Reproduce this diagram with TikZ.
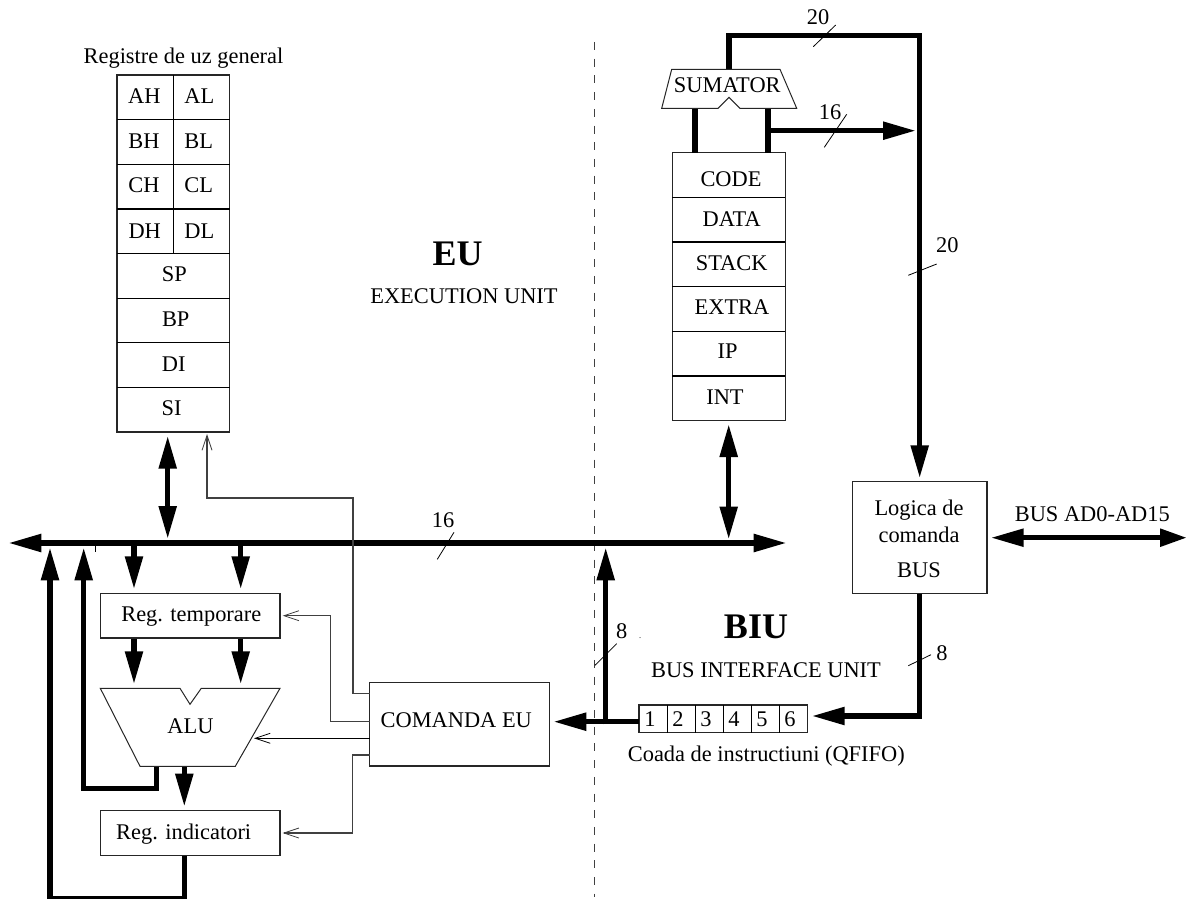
\documentclass[tikz,border=0pt]{standalone}
\usepackage{fontspec}
\setmainfont{Liberation Serif}
\usetikzlibrary{arrows.meta}
\tikzset{
  x=1pt,y=-1pt,
  every node/.style={inner sep=0pt,outer sep=0pt},
  txt/.style={anchor=base,font=\fontsize{22.4}{26}\selectfont},
  big/.style={anchor=base,font=\fontsize{36}{40}\selectfont},
  boxln/.style={draw=black!85,line width=1.1pt,fill=white},
  sepln/.style={draw=black,line width=1.1pt},
  thin wire/.style={draw=black!75,line width=1.1pt},
  tick/.style={draw=black,line width=0.8pt},
  bus/.style={draw=black,line width=5.4pt},
  hd/.tip={Triangle[length=33pt,width=17pt]},
  busarr/.style={bus,-{hd},shorten >=0pt},
  opn/.tip={Straight Barb[length=15pt,width=10pt,line width=0.8pt]},
  ctl/.style={thin wire,-{opn}},
}
\begin{document}
\begin{tikzpicture}
\useasboundingbox (0,0) rectangle (1187,899);
% dashed separator
\coordinate (dashT) at (594,42);
\coordinate (dashB) at (594,897);
\draw[draw=black!75,line width=1pt,dash pattern=on 8pt off 8.7pt] (dashT) -- (dashB);

% general registers
\node[txt] (regtitle) at (183.5,63.5) {Registre de uz general};
\node[boxln,anchor=north west,minimum width=112.5pt,minimum height=357pt] (regs) at (117,75) {};
\foreach \yy in {119.6,164.3,209,253.6,298.3,342.9,387.6}{
  \draw[sepln] (117,\yy) -- (229.5,\yy);
}
\draw[sepln] (173.3,75) -- (173.3,253.6);
\foreach \t/\xa/\ya in {AH/144.3/103.5,AL/199.3/103.5,BH/144/148.3,BL/198.7/148.3,CH/144/192.7,CL/198.7/192.7,DH/144.7/238.3,DL/199.3/238.3,SP/174.3/281.3,BP/175.7/326,DI/173.7/371,SI/171.7/415}{
  \node[txt] (r\t) at (\xa,\ya) {\t};
}

% segment registers and adder
\coordinate (sT) at (729,69.3);
\coordinate (sL) at (695,108.3);
\coordinate (sR) at (768,108.3);
\node[boxln,anchor=north west,minimum width=113pt,minimum height=268pt] (segs) at (672.3,152.7) {};
\foreach \yy in {197.3,242,286.7,331.3,376}{
  \draw[sepln] (672.3,\yy) -- (785.3,\yy);
}
\foreach \n/\t/\xa/\ya in {c/CODE/731/186.7,d/DATA/731.7/226,s/STACK/731.7/270,e/EXTRA/732/314.7,i/IP/727.7/358.7,n/INT/725/404}{
  \node[txt] (seg\n) at (\xa,\ya) {\t};
}
\draw[bus] (sL) -- (695,152.7);
\draw[bus] (sR) -- (768,152.7);
\coordinate (s16) at (916,130.7);
\draw[busarr] (768,130.7) -- (s16);
\coordinate (logicTop) at (919.7,478.3);
\draw[busarr,line join=miter] (sT) -- (729,35.7) -- (919.7,35.7) -- (logicTop);
\draw[boxln,fill=white,line width=1pt] (671.7,69.3) -- (780,69.3) -- (796.7,108.3) -- (740,108.3) -- (729,97.3) -- (718,108.3) -- (661.7,108.3) -- cycle;
\node[txt] (sumator) at (727.3,92.3) {SUMATOR};

% main bus
\coordinate (busL) at (8.3,543);
\coordinate (busR) at (786.7,543);
\draw[bus,{hd}-{hd}] (busL) -- (busR);
\draw[tick] (95.3,543) -- (95.3,552);
\draw[bus,{hd}-{hd}] (167.7,435.7) -- (167.7,539);
\draw[bus,{hd}-{hd}] (728.7,424) -- (728.7,539.5);

% lower-left blocks
\node[boxln,anchor=north west,minimum width=179.7pt,minimum height=44.7pt] (temp) at (100.3,593.3) {};
\node[txt] (temptxt) at (191.3,621.7) {Reg. temporare};
\node[boxln,anchor=north west,minimum width=179.7pt,minimum height=44.6pt] (ind) at (100.3,810.7) {};
\node[txt] (indtxt) at (183.7,839.3) {Reg. indicatori};
\draw[boxln,line width=1pt] (100.3,688.3) -- (180,688.3) -- (190,704.3) -- (201.3,688.3) -- (280,688.3) -- (235.3,766.3) -- (140,766.3) -- cycle;
\node[txt] (alu) at (190.5,733.3) {ALU};
\draw[busarr] (134,545) -- (134,589.3);
\draw[busarr] (240.7,545) -- (240.7,589.3);
\draw[busarr] (134,638.5) -- (134,684.3);
\draw[busarr] (240.7,638.5) -- (240.7,684.3);
\draw[busarr] (184.3,766.8) -- (184.3,806.7);
\draw[busarr,line join=miter] (156.3,766.8) -- (156.3,788.7) -- (83.7,788.7) -- (83.7,547.3);
\draw[busarr,line join=miter] (184.3,855.8) -- (184.3,898.5) -- (50,898.5) -- (50,547.3);

% control unit
\node[boxln,anchor=north west,minimum width=179.8pt,minimum height=83.7pt] (cmd) at (369.5,682.3) {};
\node[txt] (cmdtxt) at (456.3,727.3) {COMANDA EU};
\coordinate (c1) at (369.5,693.5);
\coordinate (c2) at (369.5,721.7);
\coordinate (c3) at (369.5,738.3);
\coordinate (c4) at (369.5,755);
\draw[ctl] (c1) -- (353,693.5) -- (353,498) -- (207,498) -- (207,434);
\draw[ctl] (c2) -- (330.7,721.7) -- (330.7,615.7) -- (282.7,615.7);
\draw[ctl,draw=black] (c3) -- (254,738.3);
\draw[ctl] (c4) -- (352.7,755) -- (352.7,833) -- (282.7,833);

% queue
\node[boxln,anchor=north west,minimum width=168.7pt,minimum height=27.7pt] (queue) at (639,705) {};
\foreach \xx in {667.1,695.2,723.3,751.4,779.5}{
  \draw[sepln] (\xx,705) -- (\xx,732.7);
}
\foreach \t/\xa in {1/650,2/678,3/706,4/734,5/762,6/790}{
  \node[txt] (q\t) at (\xa,726.7) {\t};
}
\node[txt] (qtitle) at (766.3,761) {Coada de instructiuni (QFIFO)};
\draw[busarr] (639,721.7) -- (553.3,721.7);
\draw[busarr] (605.7,724.4) -- (605.7,547.3);

% bus logic
\node[boxln,anchor=north west,minimum width=134.7pt,minimum height=111.6pt] (logic) at (852.3,481.7) {};
\node[txt] (l1) at (919,515) {Logica de};
\node[txt] (l2) at (919,542.7) {comanda};
\node[txt] (l3) at (919,577.3) {BUS};
\draw[busarr,line join=miter] (919.3,593.8) -- (919.3,716) -- (811.7,716);
\node[txt] (busad) at (1092.3,521) {BUS AD0-AD15};
\draw[bus,{hd}-{Triangle[length=27pt,width=17pt]}] (990.7,537.7) -- (1187,537.7);

% width ticks
\draw[tick] (813.3,46.7) -- (835.7,25);
\node[txt] (n20a) at (818,25) {20};
\draw[tick] (824.3,147.3) -- (846.7,114.3);
\node[txt] (n16a) at (830,120) {16};
\draw[tick] (908.3,275.3) -- (936.7,264);
\node[txt] (n20b) at (947.3,252.7) {20};
\draw[tick] (908.3,665.7) -- (931,654.7);
\node[txt] (n8b) at (942,660) {8};
\draw[tick] (437.3,559.3) -- (454,532.3);
\node[txt] (n16b) at (443,527.3) {16};
\draw[tick] (595,665.3) -- (616.7,643.7);
\node[txt] (n8a) at (621.7,638) {8};
\fill (640,637.7) circle (0.5pt);

% unit titles
\node[big] (eu) at (457.7,265) {\textbf{EU}};
\node[txt] (eutxt) at (464,303) {EXECUTION UNIT};
\node[big] (biu) at (756,638.3) {\textbf{BIU}};
\node[txt] (biutxt) at (766,677.3) {BUS INTERFACE UNIT};
\end{tikzpicture}
\end{document}
